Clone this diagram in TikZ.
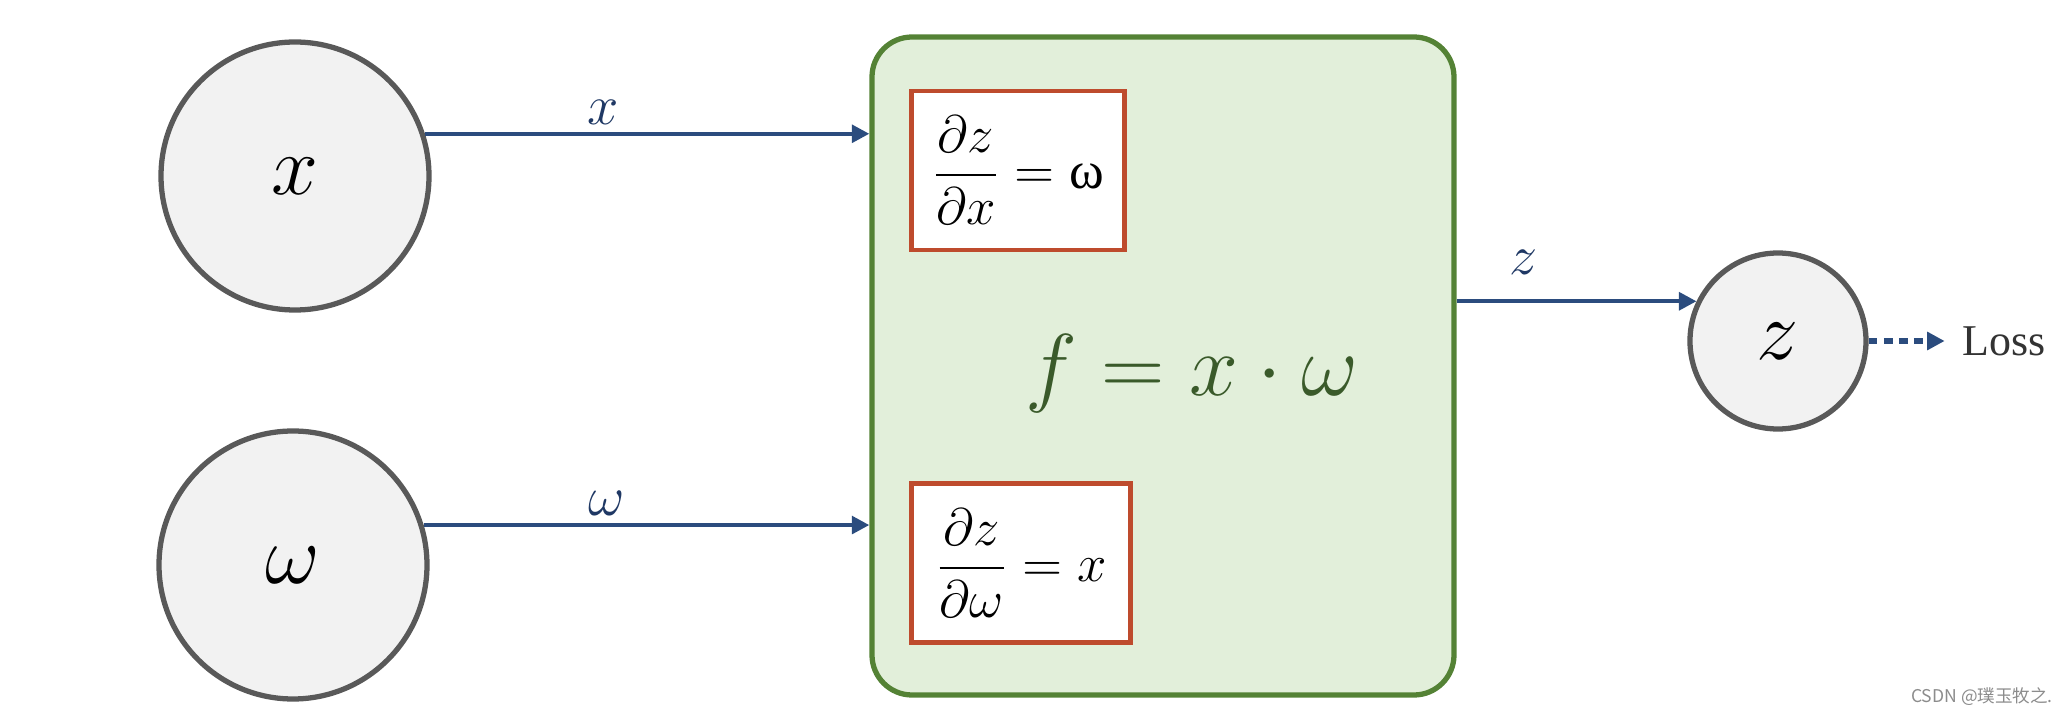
\RequirePackage{fix-cm}
\documentclass[tikz,border=0pt]{standalone}
\usepackage{amsmath,amssymb}
\usepackage{fontspec}
\newfontfamily\grk{Liberation Serif}
\newfontfamily\lossfont{Liberation Serif}
\newfontfamily\cjk{Noto Sans CJK SC}
\usepackage{tikz}
\usetikzlibrary{arrows.meta, positioning, calc}

\definecolor{circfill}{HTML}{F2F2F2}
\definecolor{circdraw}{HTML}{595959}
\definecolor{flecha}{HTML}{2B4C7E}
\definecolor{etiq}{HTML}{1F3864}
\definecolor{verdefill}{HTML}{E2EFDA}
\definecolor{verdedraw}{HTML}{548235}
\definecolor{rojo}{HTML}{BE4B2D}
\definecolor{verdetxt}{HTML}{3A5A2A}

\begin{document}
\begin{tikzpicture}[
		entrada/.style={
			circle,
			draw=circdraw,
			line width=1.5pt,
			fill=circfill,
			minimum size=2.68cm,
			inner sep=0pt,
			font=\fontsize{24}{28}\selectfont
		},
		salida/.style={
			entrada,
			minimum size=1.76cm
		},
		bloque/.style={
			rectangle,
			rounded corners=0.4cm,
			draw=verdedraw,
			line width=1.5pt,
			fill=verdefill,
			minimum width=5.82cm,
			minimum height=6.58cm
		},
		deriv/.style={
			rectangle,
			draw=rojo,
			line width=1.2pt,
			fill=white,
			minimum height=1.59cm,
			align=center,
			font=\fontsize{15}{18}\selectfont
		},
		lbl/.style={
			text=etiq,
			font=\fontsize{16}{19}\selectfont,
			inner sep=2pt
		},
		fl/.style={
			draw=flecha,
			line width=1.2pt,
			-{Triangle[length=5pt,width=5pt]}
		}
		]
		
		\useasboundingbox (0,0) rectangle (20.71,-7.16);
		
		% Entradas
		\node[entrada] (x) at (2.95,-1.76) {$x$};
		\node[entrada] (w) at (2.93,-5.65) {$\omega$};
		
		% Bloque de la función
		\node[bloque] (f) at (11.63,-3.66) {};
		
		\node[deriv, minimum width=2.13cm] (dx) at (10.18,-1.705)
		{$\dfrac{\partial z}{\partial x} = \text{\grk ω}$};
		
		\node[deriv, minimum width=2.19cm] (dw) at (10.21,-5.63)
		{$\dfrac{\partial z}{\partial \omega} = x$};
		
		\node[text=verdetxt, font=\fontsize{25}{30}\selectfont] (expr) at (11.92,-3.74)
		{$f = x \cdot \omega$};
		
		% Salida
		\node[salida] (z) at (17.78,-3.41) {$z$};
		
		\node[right=0.93cm of z, inner sep=0pt, text=black!80, font=\fontsize{12.5}{15}\lossfont] (loss)
		{Loss};
		
		\draw[fl] (x.18) -- (x.18 -| f.west)
			node[lbl, above, pos=0.4] {$x$};
		\draw[fl] (w.17) -- (w.17 -| f.west)
			node[lbl, above, pos=0.41] {$\omega$};
		\draw[fl] (z.154 -| f.east) -- (z.154)
			node[lbl, above=5pt, pos=0.28] {$z$};
		
		\draw[fl, dash pattern=on 2.5pt off 1.8pt, line width=1.6pt, shorten >=0.17cm] (z.east) -- (loss.west);
		
		\node[text=black!45, font=\fontsize{5}{6}\cjk] (marca) at (19.82,-6.97)
		{CSDN @璞玉牧之.};
		
	\end{tikzpicture}
\end{document}
